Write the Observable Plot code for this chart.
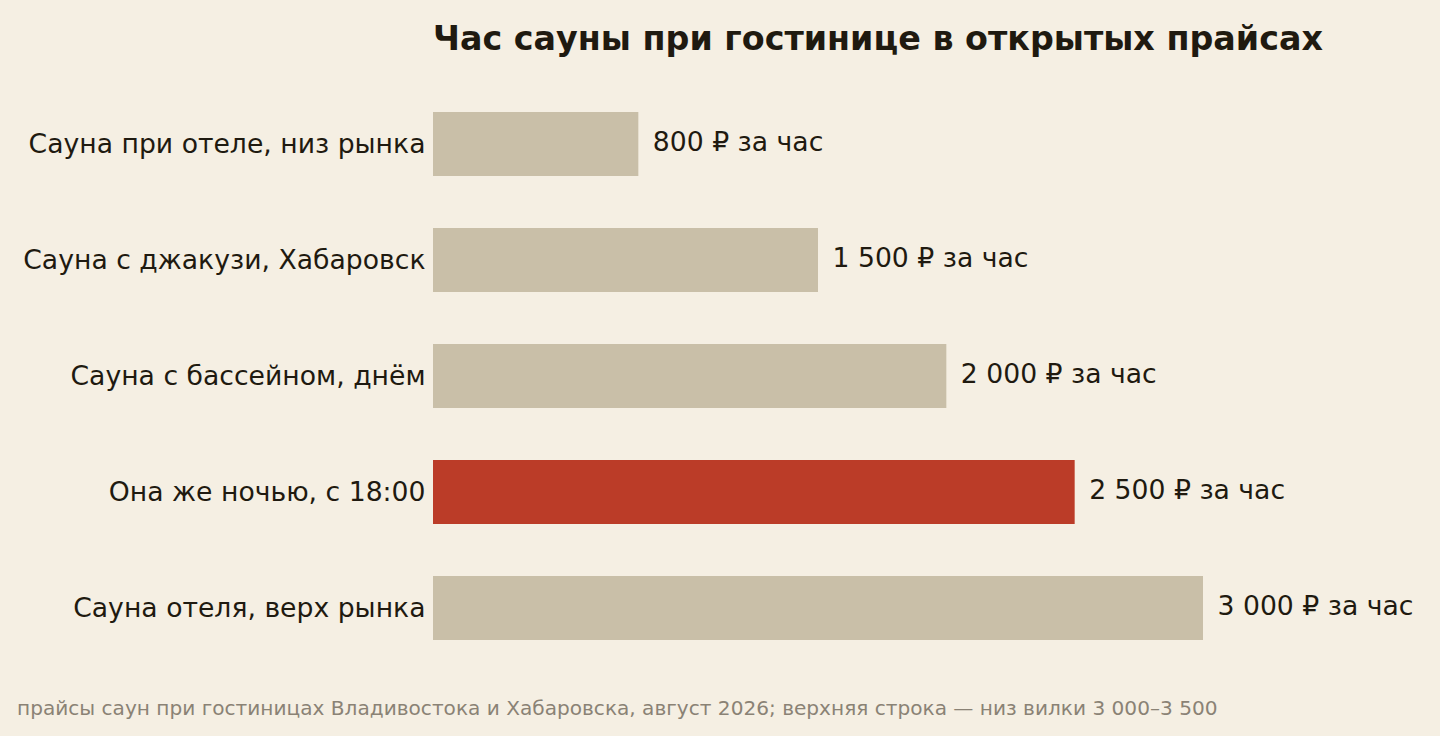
<!DOCTYPE html>
<html>
<head>
<meta charset="utf-8">
<script src="https://cdn.jsdelivr.net/npm/d3@7"></script>
<script src="https://cdn.jsdelivr.net/npm/@observablehq/plot@0.6"></script>
<style>
  html, body { margin: 0; padding: 0; background: #f5efe3; }
  body { width: 1440px; height: 736px; overflow: hidden; font-family: "DejaVu Sans", sans-serif; color: #1f1a10; }
  #title { height: 70px; box-sizing: border-box; padding-left: 433px; padding-top: 19px; font-size: 33.33px; font-weight: bold; line-height: 40px; white-space: nowrap; }
  #chart svg { display: block; }
  #caption { padding-left: 17px; padding-top: 16px; font-size: 20.1px; line-height: 24px; color: #8a8275; white-space: nowrap; }
</style>
</head>
<body>
<div id="title">Час сауны при гостинице в открытых прайсах</div>
<div id="chart"></div>
<div id="caption">прайсы саун при гостиницах Владивостока и Хабаровска, август 2026; верхняя строка — низ вилки 3 000–3 500</div>
<script>
const categories = [
  "Сауна при отеле, низ рынка",
  "Сауна с джакузи, Хабаровск",
  "Сауна с бассейном, днём",
  "Она же ночью, с 18:00",
  "Сауна отеля, верх рынка"
];
const prices = [800, 1500, 2000, 2500, 3000];
const highlighted = [false, false, false, true, false];

const data = categories.map((c, i) => ({name: c, price: prices[i], hi: highlighted[i]}));
const fmt = v => d3.format(",")(v).replace(/,/g, " ") + " ₽ за час";

const chart = Plot.plot({
  width: 1440,
  height: 610,
  marginLeft: 433,
  marginRight: 237,
  marginTop: 18,
  marginBottom: 16,
  style: {background: "transparent", fontFamily: "DejaVu Sans, sans-serif", color: "#1f1a10", overflow: "visible"},
  x: {domain: [0, 3000], axis: null},
  y: {domain: categories, padding: 0.45, paddingOuter: 0.2, label: null},
  marks: [
    Plot.barX(data, {x: "price", y: "name", fill: d => d.hi ? "#bb3c28" : "#c9bfa8"}),
    Plot.text(data, {x: "price", y: "name", text: d => fmt(d.price), textAnchor: "start", dx: 14, dy: -2, fontSize: 26.67, fill: "#1f1a10"}),
    Plot.axisY({tickSize: 0, tickPadding: 8, fontSize: 26.67, label: null, color: "#1f1a10"})
  ]
});
document.getElementById("chart").appendChild(chart);
</script>
</body>
</html>
